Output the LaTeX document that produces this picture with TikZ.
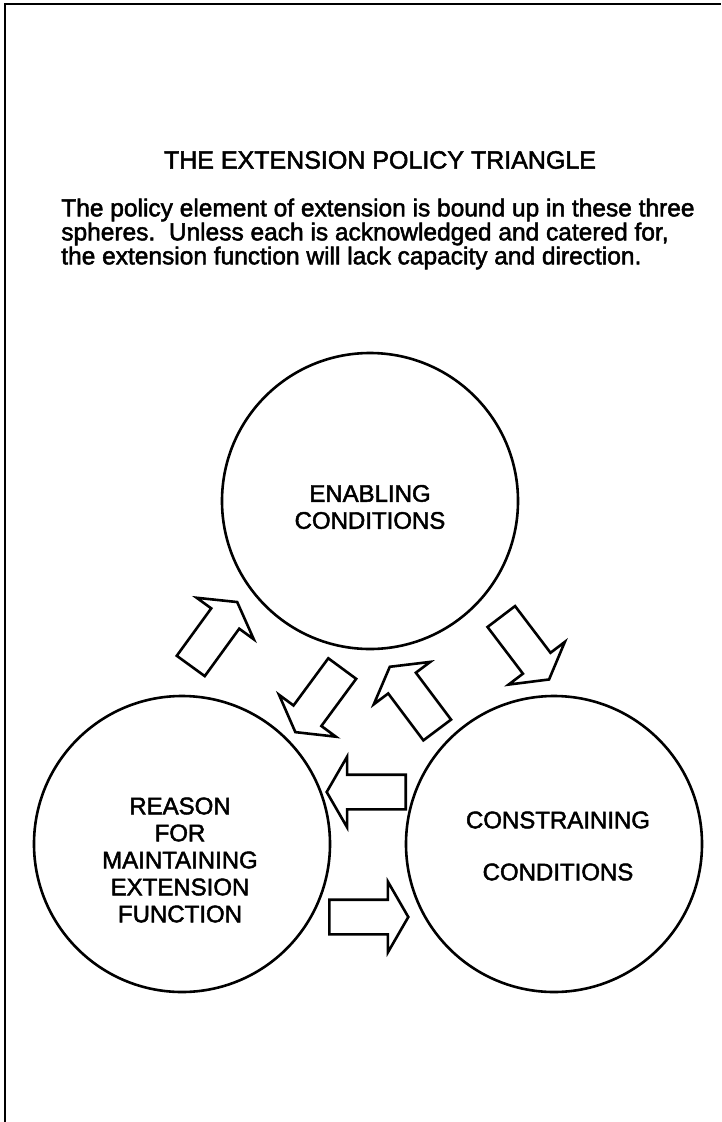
\documentclass[tikz,border=0pt]{standalone}
\usepackage{fontspec}
\setmainfont{Liberation Sans}[FakeBold=2]
\usetikzlibrary{shapes.arrows}

\begin{document}
\begin{tikzpicture}[x=1pt, y=-1pt, line width=2.6pt,
    sphere/.style={draw, circle, minimum size=296pt, inner sep=0pt},
    tag/.style={align=center, font=\fontsize{24}{27}\selectfont},
    fatarrow/.style={draw, single arrow, minimum height=79pt, inner xsep=0pt, inner ysep=16pt,
        single arrow head extend=18pt, single arrow tip angle=120, anchor=tail}]
        \useasboundingbox (0,0) rectangle (721,1122);
        \draw (5,1122) -- (5,4) -- (721,4);

        \node[font=\fontsize{25}{30}\selectfont] (title) at (380,160) {THE EXTENSION POLICY TRIANGLE};
        \node[anchor=west, align=left, inner sep=0pt, font=\fontsize{24.5}{24}\selectfont] (intro) at (60,234)
            {The policy element of extension is bound up in these three\\
             spheres.\ \ Unless each is acknowledged and catered for,\\
             the extension function will lack capacity and direction.};

        \node[sphere] (enabling) at (370,501) {};
        \node[sphere] (reason) at (182,844) {};
        \node[sphere] (constraining) at (554,844) {};

        \node[tag] (enablingtext) at (370,507) {ENABLING\\CONDITIONS};
        \node[tag] (reasontext) at (180,860) {REASON\\FOR\\MAINTAINING\\EXTENSION\\FUNCTION};
        \node[tag] (constrainingtext) at (558,846) {CONSTRAINING\\[25pt]CONDITIONS};

        \node[fatarrow, rotate=54] (upleft) at (190,667) {};
        \node[fatarrow, rotate=-52.8] (downright) at (500.5,615.5) {};
        \node[fatarrow, rotate=233.6] (downleft) at (343,667.5) {};
        \node[fatarrow, rotate=126.9] (upright) at (438,731) {};
        \node[fatarrow, rotate=180] (leftward) at (407,792) {};
        \node[fatarrow] (rightward) at (328,917) {};
    \end{tikzpicture}
\end{document}
